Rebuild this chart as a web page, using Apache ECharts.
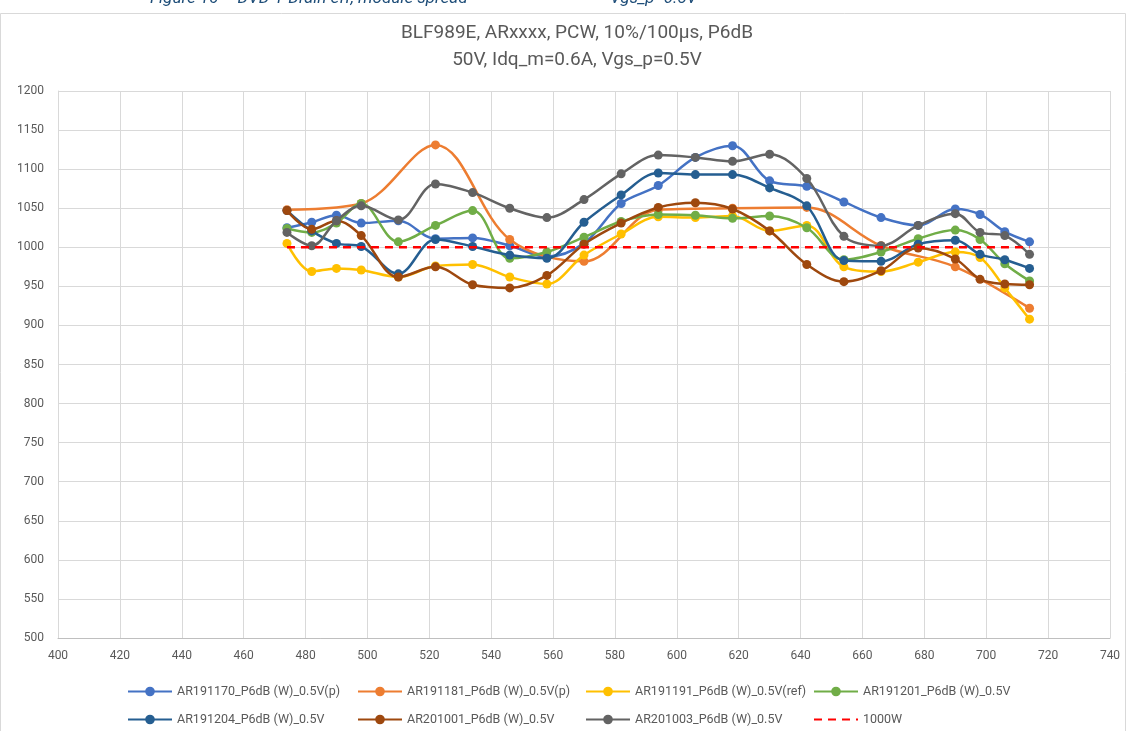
<!DOCTYPE html>
<html>
<head>
<meta charset="utf-8">
<script src="https://cdn.jsdelivr.net/npm/echarts@6/dist/echarts.min.js"></script>
<style>
  html, body { margin: 0; padding: 0; background: #fff; }
  #chart { width: 1127px; height: 731px; }
</style>
</head>
<body>
<div id="chart"></div>
<script>
// frequency points (MHz)
const freqs = [474, 482, 490, 498, 510, 522, 534, 546, 558, 570, 582, 594, 606, 618, 630, 642, 654, 666, 678, 690, 698, 706, 714]
// AR191181 was only measured every 24 MHz
const freqsOrange = [474, 498, 522, 546, 570, 594, 618, 642, 666, 690, 714]

const ar191170 = [1025, 1032, 1041, 1031, 1034, 1011, 1012, 1002, 988, 1005, 1056, 1079, 1115, 1130, 1085, 1078, 1058, 1038, 1028, 1049, 1042, 1020, 1007]
const ar191181 = [1048, 1056, 1131, 1010, 982, 1048, 1050, 1051, 1002, 975, 922]
const ar191191 = [1005, 969, 973, 971, 962, 976, 978, 962, 953, 990, 1017, 1039, 1038, 1040, 1021, 1028, 975, 969, 981, 994, 987, 948, 908]
const ar191201 = [1024, 1019, 1031, 1056, 1007, 1028, 1047, 986, 994, 1013, 1033, 1042, 1041, 1037, 1040, 1025, 984, 994, 1011, 1022, 1010, 979, 957]
const ar191204 = [1047, 1021, 1005, 1001, 966, 1010, 1001, 990, 986, 1032, 1067, 1095, 1093, 1093, 1076, 1053, 983, 982, 1004, 1009, 991, 984, 973]
const ar201001 = [1047, 1023, 1034, 1015, 962, 975, 952, 948, 964, 1004, 1031, 1051, 1057, 1049, 1021, 978, 956, 970, 999, 985, 959, 953, 952]
const ar201003 = [1019, 1002, 1034, 1053, 1035, 1081, 1070, 1050, 1038, 1061, 1094, 1118, 1115, 1110, 1119, 1088, 1014, 1002, 1028, 1043, 1019, 1015, 991]
const limitX = [474, 714]
const limitY = [1000, 1000]

const names = [
  'AR191170_P6dB (W)_0.5V(p)',
  'AR191181_P6dB (W)_0.5V(p)',
  'AR191191_P6dB (W)_0.5V(ref)',
  'AR191201_P6dB (W)_0.5V',
  'AR191204_P6dB (W)_0.5V',
  'AR201001_P6dB (W)_0.5V',
  'AR201003_P6dB (W)_0.5V',
  '1000W',
]
const colors = ['#4472C4', '#ED7D31', '#FFC000', '#70AD47', '#255E91', '#9E480E', '#636363', '#FF0000']

const pairs = (xs, ys) => xs.map((x, i) => [x, ys[i]])

const measured = [
  pairs(freqs, ar191170),
  pairs(freqsOrange, ar191181),
  pairs(freqs, ar191191),
  pairs(freqs, ar191201),
  pairs(freqs, ar191204),
  pairs(freqs, ar201001),
  pairs(freqs, ar201003),
]

const textColor = '#595959'
const font = 'Roboto, "Open Sans", sans-serif'

const series = measured.map((d, i) => ({
  name: names[i],
  type: 'line',
  data: d,
  smooth: 0.35,
  symbol: 'circle',
  symbolSize: 9,
  lineStyle: { width: 2.5, color: colors[i] },
  itemStyle: { color: colors[i] },
  z: 2 + i,
}))
series.push({
  name: names[7],
  type: 'line',
  data: pairs(limitX, limitY),
  symbol: 'none',
  lineStyle: { width: 2.5, type: [8, 6], color: colors[7] },
  itemStyle: { color: colors[7] },
  z: 20,
})

// legend laid out as 4 columns x 2 rows, like the original
const legendCols = [122, 352, 580, 808]
const legends = legendCols.map((left, c) => ({
  orient: 'vertical',
  left: left,
  top: 680,
  itemWidth: 44,
  itemHeight: 12,
  itemGap: 15,
  textStyle: { color: textColor, fontSize: 12.5, fontFamily: font },
  data: [names[c], names[c + 4]].map(n => (n === '1000W' ? { name: n, itemStyle: { opacity: 0 } } : n)),
}))

const chart = echarts.init(document.getElementById('chart'))
chart.setOption({
  animation: false,
  color: colors,
  title: {
    text: 'BLF989E, ARxxxx, PCW, 10%/100µs, P6dB\n50V, Idq_m=0.6A, Vgs_p=0.5V',
    left: 572,
    top: 15,
    textAlign: 'center',
    textStyle: { color: textColor, fontSize: 19, fontWeight: 'normal', fontFamily: font, lineHeight: 27 },
  },
  graphic: [
    {
      type: 'rect',
      shape: { x: 0.5, y: 13.5, width: 1125, height: 730 },
      style: { fill: 'none', stroke: '#D9D9D9', lineWidth: 1 },
      silent: true,
    },
    {
      type: 'text',
      left: 150,
      top: -10,
      style: { text: 'Figure 16 – DVD-T Drain eff, module spread', fill: '#1F4E79', font: 'italic 17px ' + font },
    },
    {
      type: 'text',
      left: 610,
      top: -10,
      style: { text: 'Vgs_p=0.5V', fill: '#1F4E79', font: 'italic 17px ' + font },
    },
  ],
  grid: { left: 58, right: 17, top: 91, bottom: 93, containLabel: false },
  xAxis: {
    type: 'value',
    min: 400,
    max: 740,
    interval: 20,
    axisLine: { show: true, lineStyle: { color: '#BFBFBF' } },
    axisTick: { show: false },
    splitLine: { show: true, lineStyle: { color: '#D9D9D9' } },
    axisLabel: { color: textColor, fontSize: 12, fontFamily: font, margin: 12 },
  },
  yAxis: {
    type: 'value',
    min: 500,
    max: 1200,
    interval: 50,
    axisLine: { show: true, lineStyle: { color: '#D9D9D9' } },
    axisTick: { show: false },
    splitLine: { show: true, lineStyle: { color: '#D9D9D9' } },
    axisLabel: { color: textColor, fontSize: 12, fontFamily: font, margin: 14, formatter: v => String(v) },
  },
  legend: legends,
  series: series,
})
</script>
</body>
</html>
